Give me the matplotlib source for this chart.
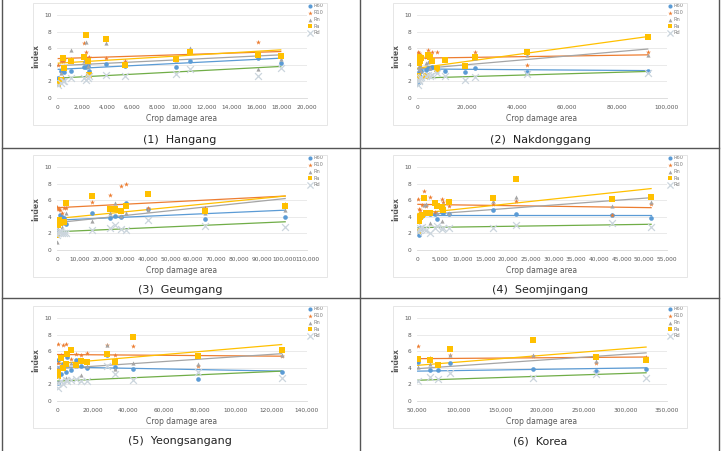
import numpy as np
import matplotlib
matplotlib.use('Agg')
import matplotlib.pyplot as plt
import matplotlib.ticker as ticker
from matplotlib.lines import Line2D
from matplotlib.patches import Rectangle

plt.rcParams['font.family'] = ['DejaVu Sans']

series_names = ['R60', 'R10', 'Rn', 'Ra', 'Rd']

# (1) Hangang
han_area = [100, 350, 450, 550, 1100, 2150, 2300, 2450, 2550, 3900, 5450, 9500, 10650, 16100, 17900]
han_r60 = [2.4, 3.2, 2.2, 3.1, 3.3, 3.75, 3.7, 3.8, 3.2, 4.1, 3.9, 3.7, 4.4, 4.85, 4.2]
han_r10 = [4.0, 4.5, 4.4, 4.6, 4.7, 6.6, 5.6, 4.8, 4.9, 4.8, 4.5, 4.75, 5.8, 6.7, 5.0]
han_rn = [1.8, 3.0, 2.5, 3.8, 5.75, 4.5, 6.8, 3.8, 4.3, 6.6, 4.0, 4.6, 6.0, 3.55, 4.7]
han_ra = [1.7, 2.2, 4.8, 3.6, 4.4, 4.9, 7.6, 4.4, 2.8, 7.1, 4.0, 4.65, 5.6, 5.2, 5.1]
han_rd = [1.6, 1.8, 2.0, 2.1, 2.4, 2.4, 2.2, 2.4, 2.6, 2.8, 2.7, 2.9, 3.5, 2.7, 3.6]
han_trend_start = [3.45, 4.75, 3.9, 4.2, 2.4]
han_trend_end = [4.8, 5.6, 5.2, 5.8, 3.8]

# (2) Nakdonggang
nak_area = [300, 600, 900, 1200, 1500, 3700, 4400, 5100, 6100, 7800, 11100, 19100, 23100, 43900, 92300]
nak_r60 = [1.8, 2.8, 3.1, 2.5, 3.3, 3.4, 3.6, 3.6, 3.7, 3.6, 3.3, 3.1, 3.6, 3.1, 3.3]
nak_r10 = [5.6, 5.4, 5.3, 5.2, 4.6, 5.0, 5.8, 5.1, 5.5, 5.5, 4.7, 3.9, 5.6, 4.0, 5.6]
nak_rn = [2.2, 3.5, 3.8, 4.0, 3.2, 4.2, 4.3, 3.6, 4.6, 3.2, 4.7, 4.0, 4.8, 5.2, 5.2]
nak_ra = [2.6, 4.2, 5.0, 4.5, 4.8, 2.6, 5.2, 5.0, 4.4, 3.5, 4.6, 3.8, 4.9, 5.5, 7.4]
nak_rd = [1.6, 2.2, 2.0, 2.4, 2.5, 2.6, 2.8, 2.7, 2.8, 3.0, 2.6, 2.2, 2.5, 2.9, 3.0]
nak_trend_start = [3.5, 4.8, 3.5, 3.6, 2.4]
nak_trend_end = [3.3, 5.2, 5.9, 7.4, 3.2]

# (3) Geumgang
geu_area = [200, 500, 900, 1300, 2000, 3000, 4000, 15600, 23200, 25400, 28000, 30300, 40100, 65100, 100400]
geu_r60 = [2.3, 3.0, 3.5, 4.2, 4.0, 3.8, 3.1, 4.4, 3.8, 4.1, 4.0, 5.7, 4.9, 3.7, 4.0]
geu_r10 = [5.2, 4.9, 5.0, 4.8, 4.5, 5.1, 5.1, 5.8, 6.6, 5.1, 7.7, 8.0, 5.1, 5.1, 5.6]
geu_rn = [1.0, 2.5, 3.6, 3.8, 2.8, 3.3, 4.4, 3.5, 4.5, 5.7, 4.1, 4.4, 4.8, 4.5, 4.8]
geu_ra = [1.8, 3.0, 3.6, 3.3, 3.4, 3.4, 5.7, 6.5, 5.0, 5.0, 4.7, 5.3, 6.7, 4.7, 5.3]
geu_rd = [1.8, 2.0, 2.2, 2.3, 2.1, 2.0, 2.1, 2.4, 2.7, 3.0, 2.5, 2.4, 3.6, 2.9, 2.8]
geu_trend_start = [3.6, 5.1, 3.3, 3.8, 2.2]
geu_trend_end = [4.8, 6.5, 6.2, 6.5, 3.4]

# (4) Seomjingang
seo_area = [200, 400, 700, 1000, 1500, 2000, 2800, 4000, 4300, 5500, 5700, 7000, 16800, 21800, 42900, 51500]
seo_r60 = [3.8, 1.8, 2.7, 4.1, 4.3, 4.4, 4.3, 4.3, 3.7, 4.6, 4.4, 4.3, 4.8, 4.3, 4.2, 3.8]
seo_r10 = [6.2, 5.0, 4.8, 5.4, 7.1, 5.3, 6.4, 4.6, 5.3, 6.2, 5.8, 5.3, 5.5, 5.9, 4.2, 5.6]
seo_rn = [2.4, 2.7, 4.0, 4.2, 5.4, 5.5, 3.2, 5.8, 4.4, 3.5, 5.6, 4.5, 5.9, 6.4, 5.3, 5.8]
seo_ra = [2.3, 3.5, 4.0, 4.2, 6.3, 4.5, 4.5, 5.7, 5.3, 5.2, 4.8, 5.8, 6.3, 8.5, 6.1, 6.4]
seo_rd = [2.2, 2.4, 2.6, 2.8, 2.5, 2.4, 2.1, 2.6, 2.9, 2.5, 2.6, 2.6, 2.6, 3.0, 3.2, 2.8]
seo_trend_start = [4.2, 5.5, 4.2, 4.4, 2.7]
seo_trend_end = [4.2, 5.1, 6.3, 7.4, 3.1]

# (5) Yeongsangang
yeo_area = [300, 600, 2000, 3500, 5200, 5500, 8000, 10500, 13500, 17000, 28000, 32400, 42300, 78700, 125800]
yeo_r60 = [2.2, 5.0, 3.3, 4.5, 3.5, 5.3, 3.7, 5.0, 4.2, 4.0, 5.6, 4.1, 3.8, 2.6, 3.5]
yeo_r10 = [4.6, 6.9, 5.5, 6.8, 6.9, 5.5, 5.1, 5.7, 5.6, 5.8, 6.7, 5.5, 6.6, 4.2, 5.4]
yeo_rn = [2.3, 4.0, 4.4, 4.0, 2.8, 4.5, 4.6, 4.2, 3.1, 4.2, 6.8, 3.8, 4.6, 4.4, 5.5]
yeo_ra = [3.0, 3.5, 5.2, 4.0, 4.4, 5.7, 6.1, 4.3, 4.8, 4.7, 5.7, 4.7, 7.7, 5.4, 6.1]
yeo_rd = [1.6, 2.2, 2.4, 2.1, 2.5, 2.4, 2.5, 2.6, 2.4, 2.4, 4.2, 3.3, 2.5, 3.5, 2.8]
yeo_trend_start = [4.1, 5.6, 3.9, 4.5, 2.4]
yeo_trend_end = [3.6, 5.4, 5.7, 6.8, 3.6]

# (6) Korea
kor_area = [50800, 65400, 75100, 89700, 189000, 264900, 324900]
kor_r60 = [4.7, 3.7, 3.7, 4.6, 3.8, 3.6, 3.8]
kor_r10 = [6.6, 5.2, 4.5, 5.5, 5.4, 4.6, 5.3]
kor_rn = [4.1, 4.5, 4.4, 5.5, 5.5, 4.8, 5.2]
kor_ra = [5.1, 5.0, 4.3, 6.3, 7.3, 5.3, 5.0]
kor_rd = [2.4, 2.9, 2.6, 3.4, 2.8, 3.3, 2.8]
kor_trend_start = [3.6, 5.1, 3.9, 4.3, 2.5]
kor_trend_end = [4.0, 5.3, 5.8, 6.5, 3.4]

panels = [
    ('(1)  Hangang', han_area, [han_r60, han_r10, han_rn, han_ra, han_rd], han_trend_start, han_trend_end, (0, 20000, 2000)),
    ('(2)  Nakdonggang', nak_area, [nak_r60, nak_r10, nak_rn, nak_ra, nak_rd], nak_trend_start, nak_trend_end, (0, 100000, 20000)),
    ('(3)  Geumgang', geu_area, [geu_r60, geu_r10, geu_rn, geu_ra, geu_rd], geu_trend_start, geu_trend_end, (0, 110000, 10000)),
    ('(4)  Seomjingang', seo_area, [seo_r60, seo_r10, seo_rn, seo_ra, seo_rd], seo_trend_start, seo_trend_end, (0, 55000, 5000)),
    ('(5)  Yeongsangang', yeo_area, [yeo_r60, yeo_r10, yeo_rn, yeo_ra, yeo_rd], yeo_trend_start, yeo_trend_end, (0, 140000, 20000)),
    ('(6)  Korea', kor_area, [kor_r60, kor_r10, kor_rn, kor_ra, kor_rd], kor_trend_start, kor_trend_end, (50000, 350000, 50000)),
]

marker_colors = ['#5B9BD5', '#ED7D31', '#A5A5A5', '#FFC000', '#CBD5DD']
trend_colors = ['#5B9BD5', '#ED7D31', '#A5A5A5', '#FFC000', '#70AD47']
markers = ['o', '*', '^', 's', 'x']
sizes = [11, 14, 9, 14, 24]

W, H = 726, 451
fig = plt.figure(figsize=(W / 100, H / 100), dpi=100)

col_left = [57, 417]
row_top = [15, 167, 318]
ax_w, ax_h = 250, 83
caption_y = [140, 290, 441]

for i, (title, area, ys, t0, t1, (xmin, xmax, xstep)) in enumerate(panels):
    r, c = divmod(i, 2)
    left = col_left[c]
    top = row_top[r]

    # faint chart-area frame
    fig.add_artist(Rectangle(((left - 24) / W, 1 - (top + 110) / H), 294 / W, 122 / H,
                             transform=fig.transFigure, fill=False, ec='#e2e2e2', lw=0.6))

    ax = fig.add_axes([left / W, 1 - (top + ax_h) / H, ax_w / W, ax_h / H])
    area = np.array(area)
    xs = np.array([area.min(), area.max()])
    for k in range(5):
        ax.plot(xs, [t0[k], t1[k]], color=trend_colors[k], lw=0.9, zorder=2)
    for k in range(5):
        if markers[k] == 'x':
            ax.scatter(area, ys[k], marker='x', s=sizes[k], color=marker_colors[k], lw=0.9,
                       zorder=3, label=series_names[k])
        else:
            ax.scatter(area, ys[k], marker=markers[k], s=sizes[k], color=marker_colors[k],
                       lw=0, zorder=3, label=series_names[k])

    ax.set_xlim(xmin, xmax)
    ax.set_ylim(0, 10)
    ax.set_xticks(np.arange(xmin, xmax + 1, xstep))
    ax.set_yticks(np.arange(0, 11, 2))
    ax.xaxis.set_major_formatter(ticker.FuncFormatter(lambda v, p: f'{int(v):,}'))
    ax.tick_params(labelsize=4.2, colors='#595959', length=0)
    ax.tick_params(axis='x', pad=5)
    ax.tick_params(axis='y', pad=4)
    ax.grid(axis='y', color='#e6e6e6', lw=0.6)
    ax.set_axisbelow(True)
    for s in ['top', 'right', 'left']:
        ax.spines[s].set_visible(False)
    ax.spines['bottom'].set_color('#d9d9d9')
    ax.spines['bottom'].set_linewidth(0.6)
    ax.set_xlabel('Crop damage area', fontsize=5.5, color='#595959', labelpad=3)
    ax.set_ylabel('Index', fontsize=5.5, color='#595959', fontweight='bold', labelpad=3)

    leg = ax.legend(loc='upper left', bbox_to_anchor=(0.99, 1.17), frameon=False,
                    fontsize=3.6, handletextpad=0.2, labelspacing=0.35, borderpad=0,
                    handlelength=1.0, markerscale=0.9)
    for t in leg.get_texts():
        t.set_color('#7f7f7f')

    fig.text((left + 123) / W, 1 - caption_y[r] / H, title, ha='center', va='center',
             fontsize=8, color='#222222')

# panel border lines
border = '#555555'
for x in [2, 360, 719]:
    fig.add_artist(Line2D([x / W, x / W], [0, 1], color=border, lw=1.0, transform=fig.transFigure))
for y in [148, 298]:
    fig.add_artist(Line2D([2 / W, 719 / W], [1 - y / H, 1 - y / H], color=border, lw=1.0,
                          transform=fig.transFigure))

fig.savefig('out.png', dpi=100)
